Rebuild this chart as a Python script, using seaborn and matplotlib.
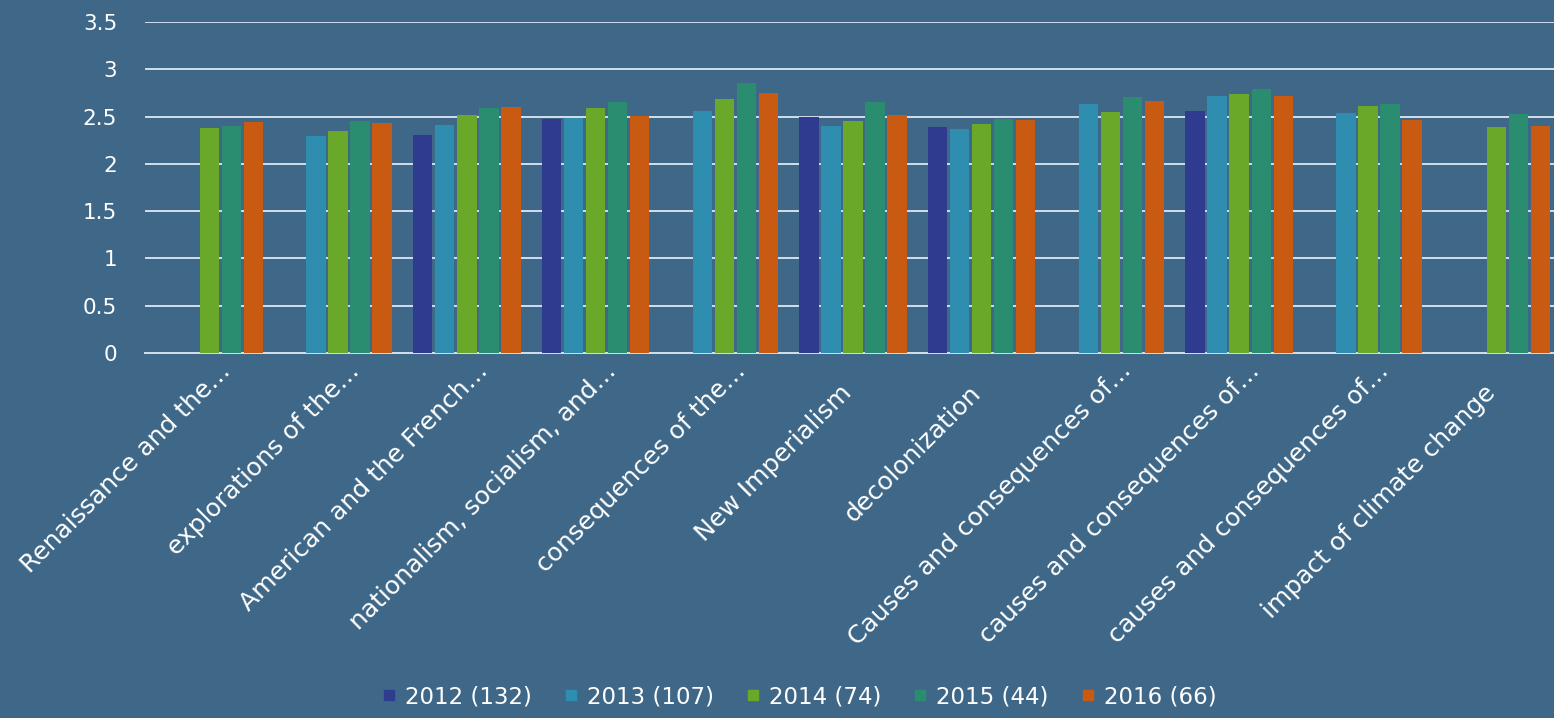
import numpy as np
import pandas as pd
import matplotlib
matplotlib.use("Agg")
import matplotlib.pyplot as plt
from matplotlib.lines import Line2D
from matplotlib.transforms import ScaledTranslation
import seaborn as sns

# data (NaN = no bar)
topics = [
    "Renaissance and the…",
    "explorations of the…",
    "American and the French…",
    "nationalism, socialism, and…",
    "consequences of the…",
    "New Imperialism",
    "decolonization",
    "Causes and consequences of…",
    "causes and consequences of…",
    "causes and consequences of…",
    "impact of climate change",
]
years = ["2012 (132)", "2013 (107)", "2014 (74)", "2015 (44)", "2016 (66)"]
nan = np.nan
v2012 = [nan, nan, 2.31, 2.47, nan, 2.50, 2.39, nan, 2.56, nan, nan]
v2013 = [nan, 2.29, 2.41, 2.48, 2.56, 2.40, 2.37, 2.63, 2.72, 2.54, nan]
v2014 = [2.38, 2.35, 2.52, 2.59, 2.69, 2.45, 2.42, 2.55, 2.74, 2.61, 2.39]
v2015 = [2.40, 2.45, 2.59, 2.65, 2.85, 2.65, 2.47, 2.71, 2.79, 2.63, 2.53]
v2016 = [2.44, 2.43, 2.60, 2.51, 2.75, 2.52, 2.46, 2.66, 2.72, 2.46, 2.40]
yticks = [0, 0.5, 1, 1.5, 2, 2.5, 3, 3.5]
ytick_labels = ["0", "0.5", "1", "1.5", "2", "2.5", "3", "3.5"]

# colours
bg = "#3f6888"
grid_col = "#d3deec"
palette = ["#2e3b8f", "#2f8db0", "#6aa82a", "#2a8d6f", "#c85a12"]

# long table for seaborn (the topic labels repeat, so key on position)
rows = []
for yr, vals in zip(years, [v2012, v2013, v2014, v2015, v2016]):
    for i, v in enumerate(vals):
        if not np.isnan(v):
            rows.append({"pos": i, "year": yr, "score": v})
df = pd.DataFrame(rows)

sns.set_theme(style="white")
plt.rcParams["font.family"] = ["DejaVu Sans"]

fig = plt.figure(figsize=(15.54, 7.18), dpi=100, facecolor=bg)
ax = fig.add_axes([145 / 1554, 365 / 718, 1416 / 1554, 331 / 718])
ax.set_facecolor("none")

sns.barplot(
    data=df, x="pos", y="score", hue="year",
    order=list(range(len(topics))), hue_order=years,
    palette=palette, width=0.855, gap=0.12, linewidth=0,
    errorbar=None, saturation=1, legend=False, ax=ax, zorder=3,
)

ax.set_xlim(-0.5, len(topics) - 0.5)
ax.set_ylim(0, 3.5)
ax.set_yticks(yticks)
ax.set_yticklabels(ytick_labels)
ax.yaxis.grid(True, color=grid_col, linewidth=1.4, zorder=0)
ax.set_axisbelow(True)
ax.tick_params(axis="y", length=0, pad=20, labelsize=15.5, labelcolor="white")

# category labels + boundary ticks
ax.set_xticks(range(len(topics)))
ax.set_xticklabels(topics)
ax.set_xticks(np.arange(-0.5, len(topics), 1), minor=True)
ax.tick_params(axis="x", which="major", length=0, pad=0, labelsize=18, labelcolor="white")
ax.tick_params(axis="x", which="minor", length=6, width=1.4, color=grid_col, direction="out")
# truncated labels sit further up/right than full ones (as in the original)
for lab in ax.get_xticklabels():
    if lab.get_text().endswith("…"):
        dx, dy = 22, 19
    else:
        dx, dy = 0, 41
    lab.set_rotation(45)
    lab.set_ha("right")
    lab.set_va("baseline")
    lab.set_rotation_mode("anchor")
    lab.set_transform(lab.get_transform() + ScaledTranslation(dx / 100, -dy / 100, fig.dpi_scale_trans))

ax.set_xlabel("")
ax.set_ylabel("")
for s in ["left", "right", "top"]:
    ax.spines[s].set_visible(False)
ax.spines["bottom"].set_color(grid_col)
ax.spines["bottom"].set_linewidth(1.4)

handles = [Line2D([], [], marker="s", linestyle="none", markersize=7,
                  markerfacecolor=c, markeredgecolor=c) for c in palette]
fig.legend(handles, years, loc="center", bbox_to_anchor=(798 / 1554, 21 / 718),
           ncol=5, frameon=False, fontsize=16.5, labelcolor="white",
           handletextpad=0.3, columnspacing=1.3, handlelength=0.8)

fig.savefig("out.png", dpi=100, facecolor=bg)
